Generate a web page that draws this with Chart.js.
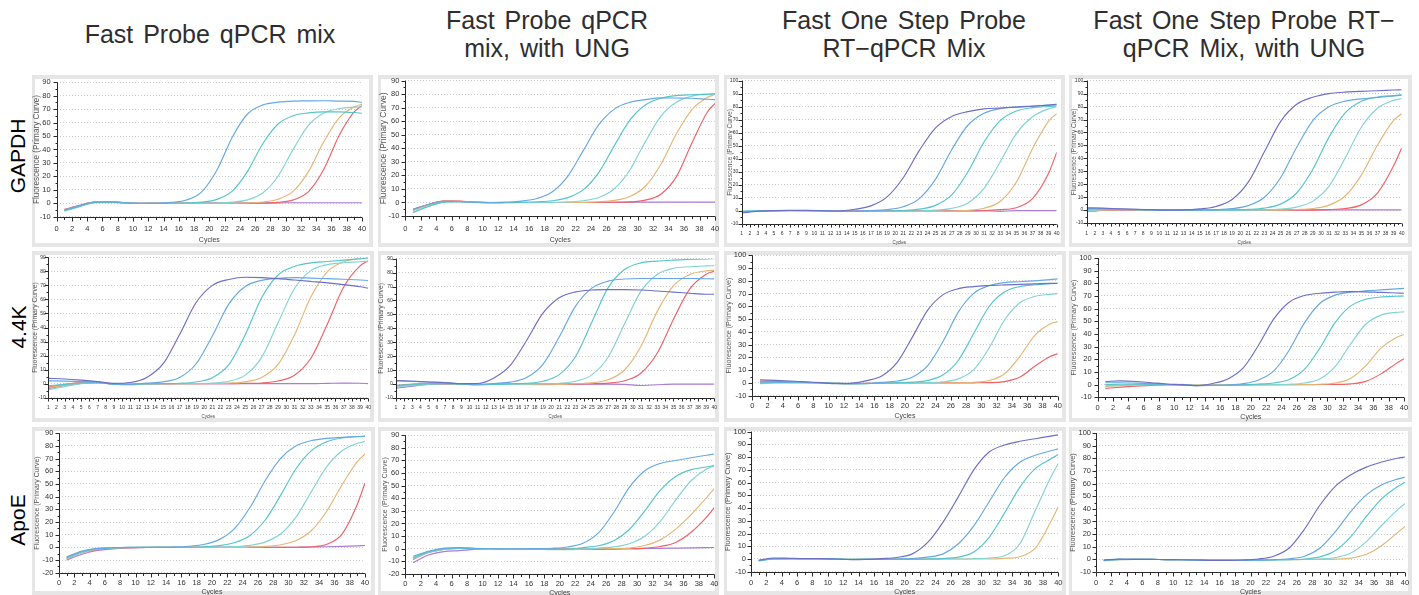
<!DOCTYPE html>
<html><head><meta charset="utf-8">
<script src="https://cdn.jsdelivr.net/npm/chart.js@4.4.0/dist/chart.umd.min.js"></script>
<style>
html,body{margin:0;padding:0;background:#fff;width:1419px;height:595px;overflow:hidden;}
#wrap{position:relative;width:1419px;height:595px;}
.ctitle{position:absolute;font-family:'Liberation Sans',Arial,sans-serif;font-size:25px;color:#2e2e2e;text-align:center;line-height:28px;word-spacing:3px;white-space:nowrap;transform:translateX(-50%);}
.rlabel{position:absolute;font-family:'Liberation Sans',Arial,sans-serif;font-size:21px;line-height:24px;color:#000;white-space:nowrap;transform:translate(-50%,-50%) rotate(-90deg);}
canvas{position:absolute;}
</style></head>
<body><div id="wrap"></div>
<script>
// ---------- text ----------
const colTitles = [["Fast  Probe  qPCR  mix"],["Fast  Probe  qPCR","mix,  with  UNG"],["Fast  One  Step  Probe","RT\u2212qPCR  Mix"],["Fast  One  Step  Probe  RT\u2212","qPCR  Mix,  with  UNG"]];
const rowLabels = ["GAPDH","4.4K","ApoE"];
const yTitle = "Fluorescence (Primary Curve)";
const xTitle = "Cycles";

// ---------- data (cycle numbers and fluorescence) ----------
const cycles = [1,3,5,7,9,11,13,15,17,19,21,23,25,27,29,31,33,35,37,39,40];

const A_bl = [-5,-1.8,0.9,1.0,0.3,0,0,0.7,2.4,8.5,24.7,49.1,66.4,73.2,75.2,76,76.2,76.3,76,75.8,75];
const A_te = [-5.5,-2.3,0.6,0.9,0.2,-0.2,-0.1,0,0.1,0.8,2.9,9.0,23.7,44.3,59,65.2,67.2,68,68,67.5,67];
const A_lt = [-6,-2.5,0.5,0.8,0.2,0,0,0,0,0.1,0.2,0.8,2.5,7.6,20.1,40.3,58.1,67.1,70.4,71.5,71.8];
const A_ta = [-4.8,-2,0.8,1.0,0.3,0,0,0,-0.1,0,0,0.1,0.3,0.9,3.0,9.0,23.7,45.9,63.6,71.8,73.6];
const A_re = [-4.5,-1.5,1.0,1.2,0.4,0,0.2,0,0,-0.1,0,0,0,0.1,0.7,2.5,8.7,25.3,50.4,68.1,72.6];
const A_vi = [-5,-2,0.7,1,0.3,0,0,0.1,0.2,0.2,0.3,0.3,0.3,0.3,0.3,0.4,0.4,0.4,0.4,0.4,0.4];

const B_bl = [-5,-1.5,0.9,0.7,0.2,0,0.3,1.0,2.9,7.9,19.5,38.5,57.5,69,74,76,77.3,77.2,77,76.3,76];
const B_te = [-7.5,-3,0.3,0.6,0.1,0,0,0.1,0.5,1.3,3.6,9.5,22.3,42,60.9,72.1,77,79,79.6,80,80.2];
const B_lt = [-7,-2.8,0.3,0.6,0.1,0,0,0,0,0.1,0.4,1.3,3.7,10.1,24,44.9,63.7,74.1,78.6,80.1,80.5];
const B_ta = [-6,-2,0.8,0.7,0.1,-0.2,0,0,0,0,0,0.1,0.5,1.5,4.4,12,28.1,50.6,68.5,77.6,79.8];
const B_re = [-5.5,-1.5,1.2,1.0,0.2,-0.4,-0.2,0,0,0,0,0,0.1,0.2,0.4,1.7,6.1,18.9,43.7,66.7,73.3];
const B_vi = [-5,-1.5,0.8,0.8,0.2,0,0,0,0,0,0,0,0,0,0.1,0.2,0.3,0.3,0.3,0.3,0.3];

const C_pb = [-1.5,-0.2,0.3,0.5,0.5,0.2,0,1.3,3.9,10.8,25.5,46.5,63.8,72.6,76.3,78.4,79.0,79.7,80.4,81.3,81.8];
const C_bl = [-1,0,0.3,0.4,0.4,0.2,-0.3,-0.2,0.3,1.0,3.2,9.5,24.4,47,65.8,75,78.6,79.8,80.5,81.3,81.8];
const C_te = [-0.5,0.2,0.3,0.4,0.3,0.1,-0.3,-0.3,-0.1,0,0.4,1.4,4.3,12.3,29.9,52.9,69.3,76.7,79.3,80.2,80.6];
const C_lt = [0,0.3,0.3,0.4,0.3,0,-0.3,-0.3,-0.2,-0.1,0,0,0.6,2.0,6.2,17.3,37.6,59.4,72.3,78.5,80];
const C_ta = [-0.5,0,0.2,0.3,0.3,0,-0.3,-0.3,-0.3,-0.2,-0.2,-0.1,-0.1,0,0.5,2.1,7.3,22,47.8,69,74.7];
const C_re = [-1,0,0.2,0.3,0.3,0,-0.3,0,0,0,0,0,0,0,0,0.2,1.0,2.5,9.5,29,45];
const C_vi = [-1,0,0.3,0.4,0.4,0.3,0.3,0.3,0.3,0.3,0.3,0.3,0.3,0.3,0.3,0.3,-0.3,0.3,0.3,0.3,0.3];

const D_pb = [1.8,1.5,1.0,0.6,0.3,0,0.1,0.9,2.8,8.2,21.6,45,68.4,81.8,87.2,90,91.2,91.8,92.2,92.8,93];
const D_bl = [1.2,1.0,0.8,0.5,0.2,0,-0.1,0,0.3,1.1,3.4,9.9,25,48.6,69.2,79.8,84.2,86,87,88.2,88.8];
const D_te = [0.5,0.8,0.6,0.4,0.2,0,-0.1,-0.1,0,0.1,0.5,1.5,4.6,13.2,31.5,56.4,75.2,84.1,87.4,88.5,89];
const D_lt = [-0.5,0.3,0.4,0.3,0.1,0,-0.1,-0.1,-0.1,0,0,0.1,0.7,2.3,6.9,18.5,40.2,64,78.7,84.8,86.2];
const D_ta = [-1,0,0.3,0.3,0.1,0,-0.1,0,0,0,0,0,0,0.4,1.2,3.8,10.9,27,50.3,69.3,74.5];
const D_re = [-1.2,-0.3,0.2,0.2,0.1,0,0,0,0,0,0,0,0,0,0,0.3,1.2,4.0,13.1,34.2,48];
const D_vi = [-1,0,0.2,0.2,0.2,0.2,0.2,0.2,0.2,0.2,0.2,0.2,0.2,0.2,0.2,0.2,0.2,0.2,0.2,0.2,0.2];

const E_pb = [3.8,3.3,2.5,1.5,0.2,0.8,4.4,14.2,35,57.6,70,74.2,75.8,75.5,74.8,73.8,72.8,71.8,70.5,69,68];
const E_bl = [2,1.8,1.5,1,-0.5,-0.5,0.4,1.3,4.4,14,34.1,56.6,69.2,73.6,75,75.5,75.2,74.8,74.4,73.8,73.5];
const E_te = [-1.5,-0.5,0.5,1,-0.3,-0.5,0,0.1,0.3,1.2,4.2,13.5,34.8,61.2,77.4,83.5,86,87,88,89,89.5];
const E_lt = [-4.5,-2,0,0.8,-0.3,-0.5,-0.2,0,0,0.1,0.5,1.7,6.1,18.7,43.3,67.8,80.5,84.8,86.1,86.8,87.2];
const E_ta = [-3,-1,0.5,0.8,-0.3,-0.6,-0.3,0,0,0,0.1,0.4,1.3,4.4,13.7,34.7,61.7,79.6,86.8,89,89.5];
const E_re = [-2.5,-0.5,0.8,1,-0.3,-0.8,-0.4,-0.2,0,0,0,0,0.2,0.5,1.9,6,18.1,42.3,68.9,83.9,87.5];
const E_vi = [-3.5,-1.5,0.2,0.6,-0.2,-0.3,0,0,0,0,0,0,0,0,0,0,0,0.2,0.4,0.3,0];

const F_pb = [2.5,2,1.5,1.0,0.3,0.4,4.4,13.4,31.3,50.9,62,66.2,67.5,67.8,67.8,67.5,66.8,66,65.2,64.5,64.5];
const F_bl = [2.5,2,1.5,1,0.2,-0.5,0.4,1.4,4.7,14.2,33.8,56,68.9,73.9,75.4,75.8,75.8,75.8,75.8,75.6,75.5];
const F_te = [-1,-0.3,0.3,0.5,0,-0.5,-0.3,0.2,0.6,2,6.8,19.8,44.5,69.2,82.2,87,88.3,89,89.5,89.8,90];
const F_lt = [-2,-1,0,0.3,0,-0.4,-0.3,-0.2,0,0.2,0.6,2,6.6,19.4,43.2,66.5,78.7,83.1,84.2,84.8,85];
const F_ta = [-1.5,-0.5,0.3,0.3,0,-0.3,-0.3,-0.2,-0.2,-0.5,-0.3,0.3,0.9,3.1,10.1,27,52,70.6,78.7,81.3,81.8];
const F_re = [-1,0,0.5,0.4,0,-0.3,-0.2,-0.1,0,0,0,0,0.2,0.7,2.4,7.8,22.1,46.6,68.3,78.8,81.1];
const F_vi = [-3,-1.5,-0.3,0,0,-0.3,0,0,0,0,0,0,0,0,-0.2,-1,-0.5,0,0,0,0];

const G_pb = [2.5,2,1.5,0.8,0.2,-0.5,-0.2,1.8,5.6,16.3,36.3,57.3,69.2,73.9,75.5,76.3,76.8,77.2,77.6,78,78];
const G_bl = [0.8,0.8,0.6,0.4,0.2,-0.4,-0.6,-0.4,0.4,1.5,4.7,13.8,32.7,55.7,70.2,76.2,78.6,79.3,80,80.9,81.5];
const G_te = [0,0.3,0.3,0.2,0,-0.4,-0.6,-0.5,-0.3,0.2,0.6,2,6.4,17.8,38.8,59.7,71.2,75.5,76.9,77.7,78];
const G_lt = [-0.5,0,0.2,0.2,0,-0.4,-0.6,-0.5,-0.4,-0.2,0.1,0.3,0.9,3.2,10.4,27.2,48.9,62.6,67.8,69.4,70];
const G_ta = [0.5,0.5,0.3,0.2,0,-0.3,-0.5,-0.4,-0.3,-0.2,-0.1,0,0,0.1,0.5,1.9,7,20.5,37.3,46.2,48];
const G_re = [1.5,1.2,0.8,0.4,0.1,-0.3,-0.5,-0.4,-0.3,-0.2,-0.1,0,0,0,0.1,0.2,1.0,4.4,13,20.7,22.8];

const H_pb = [2.5,3,2.5,1.5,0.5,0,-0.8,0.9,4.5,13.2,31.1,51.9,65.1,70.4,72.2,73,73.5,73.3,72.8,72.4,72.2];
const H_bl = [1.5,1.5,1.2,0.8,0.3,-0.2,-0.8,-0.6,-0.3,0.8,3.7,10.9,27.2,48.8,64.1,70.7,73,74,74.8,75.6,76];
const H_te = [0,0.3,0.3,0.3,0.1,-0.2,-0.7,-0.6,-0.4,-0.2,0.4,1.3,4.1,12.1,28.8,48.9,62,67.4,69.2,69.8,70];
const H_lt = [-1,-0.5,0,0.2,0.1,-0.2,-0.6,-0.6,-0.5,-0.3,-0.2,0,0.3,1.3,4.5,14.2,31.9,47.7,54.9,57.1,57.5];
const H_ta = [-1.5,-0.8,-0.3,0,0,0.2,-0.4,-0.4,-0.3,-0.2,-0.1,0,0,0.1,0.3,1.3,4.9,14.8,28.8,37.2,39.6];
const H_re = [-3,-2,-1.2,-0.6,-0.2,-0.2,-0.5,-0.4,-0.3,-0.2,-0.1,0,0,0,0.1,0.2,0.6,2.6,8.5,16.8,20.4];

const I_bl = [-7.5,-3,-0.8,-0.3,0,0,0,0.2,0.9,2.4,6.3,15.2,31.8,53.2,70.5,80.1,84.3,86,86.8,87.5,87.8];
const I_te = [-8,-3.5,-1,-0.5,0,0,0,0,0.1,0.5,1.4,3.8,9.6,22,41.4,62.2,76.3,83.3,86.3,87.3,87.6];
const I_lt = [-9,-4,-1.2,-0.5,-0.1,0,0,0,0,0,0.2,0.6,1.6,4.3,10.7,24,44.1,63.7,76.2,82.1,83.6];
const I_ta = [-8.5,-4,-1.5,-0.6,-0.2,0,0,0,0,0,0,0,0.3,0.8,2.1,5.4,13.3,28.5,49.4,67.6,73.8];
const I_re = [-9,-4.2,-1.8,-0.8,-0.3,-0.1,0,0,0,0,0,0,0,0,0,0.1,0.5,2.5,10.5,34,50.8];
const I_vi = [-10,-5.5,-2.5,-1.2,-0.5,-0.2,0,0,0,0,0,0,0,0,0,0.1,0.3,0.5,0.8,1.2,1.5];

const J_bl = [-6,-2,0.5,1,0.3,0,0,0,0.1,0.4,1.4,4.3,12.5,28.9,48.6,61.7,67.5,69.8,72,74,75];
const J_te = [-7,-2.5,0,0.5,0.2,0,-0.2,-0.2,-0.2,-0.5,-0.3,0.9,2.4,6.4,15.2,30,46.2,57.2,62.6,64.7,65.8];
const J_lt = [-8,-3,-0.5,0.3,0.1,0,-0.3,-0.3,-0.4,-0.8,-0.8,-0.3,0.6,1.5,4,9.9,21.7,38.5,53.8,63,65.6];
const J_ta = [-7.5,-2.5,-0.3,0.3,0,0,-0.2,-0.2,-0.2,-0.3,-0.3,-0.2,0,0.2,0.5,2.5,7,15.5,27,40.5,47.5];
const J_re = [-8.5,-3,-0.5,0.2,0,0,-0.2,-0.3,-0.3,-0.3,-0.3,-0.5,-0.5,-0.3,0,0.5,1.8,5,13,25,32.5];
const J_vi = [-11,-5,-2.3,-1.5,-0.5,0,0,0,0,0,0,0,0,0,0,0.2,0.3,0.5,0.7,0.9,1];

const K_pb = [-1,0.8,0.5,0.3,0.3,0,-0.5,-0.3,0.3,1.2,4,13,29,49,70,84,89.5,92.5,94.5,96.5,97.5];
const K_bl = [-1.2,0.3,0.3,0.2,0.2,0,-0.4,-0.3,-0.2,0,0.3,1.5,4,12,26,45,64,76,81.5,85,86.5];
const K_te = [-1.5,0,0.2,0.2,0.2,0,-0.3,-0.3,-0.3,-0.2,-0.1,0,0.3,1.5,5.5,17,36,56.5,71,78.5,82];
const K_lt = [-1.2,0,0.2,0.2,0.1,0,-0.3,-0.3,-0.3,-0.3,-0.3,-0.2,0,0,0.2,0.8,2.5,12,38,64,75];
const K_ta = [-1,0,0.1,0.1,0.1,0,-0.2,-0.2,-0.2,-0.2,-0.2,-0.1,0,0,0,0,0.5,1.8,8.5,29,41];

const L_pb = [-0.5,0.2,0,0,-0.2,-0.3,-0.5,-0.8,-0.8,-0.5,0.3,2.5,9,24,43,58,67,73,77,80,81];
const L_bl = [-0.5,0,0,0,-0.2,-0.3,-0.5,-0.8,-0.8,-0.8,-0.6,-0.3,0.5,2.5,9,22,38,51,59,63.5,65];
const L_te = [-1,0,0,0,-0.2,-0.3,-0.5,-0.7,-0.7,-0.7,-0.6,-0.4,-0.2,0.3,2,7,18,34,48,57.5,61];
const L_lt = [-1,-0.2,0,0,-0.2,-0.3,-0.5,-0.6,-0.6,-0.6,-0.5,-0.4,-0.3,-0.1,0.3,1.5,5,14,27,39,44];
const L_ta = [-1,-0.2,0,0,-0.2,-0.3,-0.4,-0.5,-0.5,-0.5,-0.4,-0.3,-0.2,-0.1,0,0.2,1,4,11,21,26];

// ---------- styles ----------
const COL = {pb:'#6d6ec6', bl:'#66a8e2', te:'#55c5cb', lt:'#82d3d3', ta:'#e5b575', re:'#f06166', vi:'#aa7cd8'};
const FONT = "'Liberation Sans', Arial, sans-serif";

// layout: box=[x,y,w,h] of panel, area=[left,top,right,bottom] of plot (page px)
const PANELS = [
 {s:[['bl',A_bl],['te',A_te],['lt',A_lt],['ta',A_ta],['re',A_re],['vi',A_vi]], box:[32,75,341,172], area:[56.7,82.3,362,216.7], y:[-10,90], x:[0,40,2,1], tf:7.5, yPad:6, xLab:12.3, yt:[5,8.2], xt:[23.3,7]},
 {s:[['bl',B_bl],['te',B_te],['lt',B_lt],['ta',B_ta],['re',B_re],['vi',B_vi]], box:[378,75,341,172], area:[405.3,80.7,715,216], y:[-10,90], x:[0,40,2,1], tf:7.5, yPad:6, xLab:13, yt:[6,8.4], xt:[24,7]},
 {s:[['pb',C_pb],['bl',C_bl],['te',C_te],['lt',C_lt],['ta',C_ta],['re',C_re],['vi',C_vi]], box:[724,75,341,172], area:[741.7,80.7,1056.7,224], y:[-10,100], x:[1,40,1,0.5], tf:5, yPad:3.5, xLab:9.7, yt:[6,6.5], xt:[18.7,4.5]},
 {s:[['pb',D_pb],['bl',D_bl],['te',D_te],['lt',D_lt],['ta',D_ta],['re',D_re],['vi',D_vi]], box:[1069,75,343,172], area:[1086.7,80.7,1401.7,223], y:[-10,100], x:[1,40,1,0.5], tf:5, yPad:3.5, xLab:10.7, yt:[5.5,6.5], xt:[19.7,4.5]},
 {s:[['pb',E_pb],['bl',E_bl],['te',E_te],['lt',E_lt],['ta',E_ta],['re',E_re],['vi',E_vi]], box:[32,251,342,171], area:[48.3,257.3,368.3,397.7], y:[-10,90], x:[1,40,1,0.5], tf:5, yPad:2.5, xLab:9.6, yt:[3.5,6.8], xt:[19,4.5]},
 {s:[['pb',F_pb],['bl',F_bl],['te',F_te],['lt',F_lt],['ta',F_ta],['re',F_re],['vi',F_vi]], box:[378,251,341,171], area:[396,258.7,714.3,398], y:[-10,90], x:[1,40,1,0.5], tf:5, yPad:3.3, xLab:10, yt:[3.5,6.8], xt:[18.3,4.5]},
 {s:[['pb',G_pb],['bl',G_bl],['te',G_te],['lt',G_lt],['ta',G_ta],['re',G_re]], box:[724,251,342,171], area:[752.3,255.3,1057.7,395.7], y:[-10,100], x:[0,40,2,1], tf:7.5, yPad:6, xLab:10.6, yt:[5,7.2], xt:[20.3,7]},
 {s:[['pb',H_pb],['bl',H_bl],['te',H_te],['lt',H_lt],['ta',H_ta],['re',H_re]], box:[1069,251,343,171], area:[1097.7,258,1404,397.3], y:[-10,100], x:[0,40,2,1], tf:7.5, yPad:6, xLab:10.7, yt:[5.5,7.2], xt:[19.7,7]},
 {s:[['bl',I_bl],['te',I_te],['lt',I_lt],['ta',I_ta],['re',I_re],['vi',I_vi]], box:[32,427,343,168], area:[59,433.3,365,572.7], y:[-20,90], x:[0,40,2,1], tf:7.5, yPad:5.7, xLab:10, yt:[4.7,7], xt:[19,7]},
 {s:[['bl',J_bl],['te',J_te],['lt',J_lt],['ta',J_ta],['re',J_re],['vi',J_vi]], box:[378,427,341,168], area:[405.3,435,714.3,574], y:[-20,90], x:[0,40,2,1], tf:7.5, yPad:6, xLab:10.3, yt:[6.8,7.1], xt:[19.3,7]},
 {s:[['pb',K_pb],['bl',K_bl],['te',K_te],['lt',K_lt],['ta',K_ta]], box:[724,427,342,168], area:[751,431.7,1058.3,571.7], y:[-10,100], x:[0,40,2,1], tf:7.5, yPad:5, xLab:11, yt:[3.5,7.4], xt:[20,7]},
 {s:[['pb',L_pb],['bl',L_bl],['te',L_te],['lt',L_lt],['ta',L_ta]], box:[1069,427,343,168], area:[1096,433,1405,572], y:[-10,100], x:[0,40,2,1], tf:7.5, yPad:5, xLab:11, yt:[4,7.4], xt:[20,7]}
];

const wrap = document.getElementById('wrap');
// column titles
const colCenters = [210,547,904,1244];
colTitles.forEach((lines,i)=>{
  const d = document.createElement('div');
  d.className='ctitle';
  d.style.left = colCenters[i]+'px';
  d.style.top = (lines.length===1 ? 19.5 : 6.3)+'px';
  d.innerHTML = lines.map(t=>t.replace(/  /g,' ')).join('<br>');
  wrap.appendChild(d);
});
// row labels
const rowCenters = [[18,156],[19,327],[18,520]];
rowLabels.forEach((t,i)=>{
  const d = document.createElement('div');
  d.className='rlabel';
  d.style.left = rowCenters[i][0]+'px';
  d.style.top = rowCenters[i][1]+'px';
  d.textContent = t;
  wrap.appendChild(d);
});

const decor = {
  id:'decor',
  beforeDraw(chart){
    const {ctx, width:W, height:H} = chart;
    ctx.save();
    ctx.fillStyle = '#e6e6e6'; ctx.fillRect(0,0,W,H);
    ctx.fillStyle = '#ffffff'; ctx.fillRect(3,4,W-7,H-8);
    ctx.restore();
  },
  afterDraw(chart, args, o){
    const {ctx, chartArea:a, scales:{x, y}} = chart;
    ctx.save();
    ctx.strokeStyle = '#2a2a2a'; ctx.lineWidth = 1;
    ctx.beginPath();
    const L = Math.round(a.left)+0.5, B = Math.round(a.bottom)+0.5;
    ctx.moveTo(L, a.top); ctx.lineTo(L, B); ctx.lineTo(a.right, B);
    for (let v=o.ymin; v<=o.ymax+1e-9; v+=5){
      const py = Math.round(y.getPixelForValue(v))+0.5;
      const len = (Math.abs(v % 10) < 1e-6) ? 4 : 2;
      ctx.moveTo(L-len, py); ctx.lineTo(L, py);
    }
    for (let v=o.xmin; v<=o.xmax+1e-9; v+=o.xminor){
      const px = Math.round(x.getPixelForValue(v))+0.5;
      const r = v/o.xstep; const major = Math.abs(r-Math.round(r))<1e-6;
      const len = major ? (o.xstep===1?3:4) : (o.xstep===1?1.5:2.5);
      ctx.moveTo(px, B); ctx.lineTo(px, B+len);
    }
    ctx.stroke();
    // axis titles
    ctx.fillStyle = '#555';
    ctx.textAlign = 'center'; ctx.textBaseline = 'middle';
    ctx.font = o.ytf + 'px ' + FONT;
    ctx.translate(o.ytx, (a.top+a.bottom)/2);
    ctx.rotate(-Math.PI/2);
    ctx.fillText(yTitle, 0, 0);
    ctx.setTransform(1,0,0,1,0,0);
    ctx.fillStyle = '#444';
    ctx.font = o.xtf + 'px ' + FONT;
    ctx.fillText(xTitle, (a.left+a.right)/2, a.bottom + o.xty);
    ctx.restore();
  }
};

PANELS.forEach(p=>{
  const [bx,by,bw,bh] = p.box, [al,at,ar,ab] = p.area;
  const cv = document.createElement('canvas');
  cv.width = bw; cv.height = bh;
  cv.style.left = bx+'px'; cv.style.top = by+'px';
  cv.style.width = bw+'px'; cv.style.height = bh+'px';
  wrap.appendChild(cv);
  const datasets = p.s.map(([k,vals])=>({
    data: vals.map((v,i)=>({x:cycles[i], y:v})),
    borderColor: COL[k], borderWidth: 1.15, pointRadius: 0, fill: false,
    cubicInterpolationMode: 'monotone'
  }));
  const yW = al - bx, xH = (by+bh) - ab;
  new Chart(cv, {
    type: 'line',
    data: {datasets},
    plugins: [decor],
    options: {
      responsive: false, maintainAspectRatio: false, animation: false, devicePixelRatio: 1,
      layout: {padding: {top: at-by, right: (bx+bw)-ar, left: 0, bottom: 0}},
      plugins: {
        legend: {display:false}, tooltip: {enabled:false},
        decor: {ymin:p.y[0], ymax:p.y[1], xmin:p.x[0], xmax:p.x[1], xstep:p.x[2], xminor:p.x[3], ytx:p.yt[0], ytf:p.yt[1], xty:p.xt[0], xtf:p.xt[1]}
      },
      scales: {
        x: {
          type:'linear', min:p.x[0], max:p.x[1],
          grid:{display:false, drawTicks:false}, border:{display:false},
          ticks:{stepSize:p.x[2], autoSkip:false, maxRotation:0, minRotation:0, precision:0,
                 font:{size:p.tf, family:FONT}, color:'#333', padding: p.xLab - 0.6*p.tf},
          afterFit(s){ s.height = xH; s.paddingLeft = 0; s.paddingRight = 0; }
        },
        y: {
          type:'linear', min:p.y[0], max:p.y[1],
          grid:{color:'#cdcdcd', drawTicks:false, lineWidth:1},
          border:{display:false, dash:[1,2]},
          ticks:{stepSize:10, autoSkip:false, precision:0, font:{size:p.tf, family:FONT}, color:'#333', padding:p.yPad},
          afterFit(s){ s.width = yW; s.paddingTop = 0; s.paddingBottom = 0; }
        }
      }
    }
  });
});
</script>
</body></html>
